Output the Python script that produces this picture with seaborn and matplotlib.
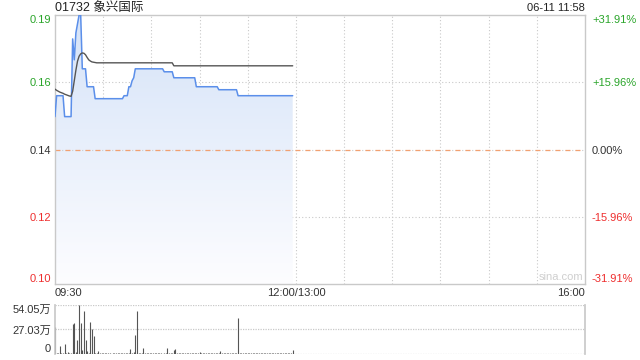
import numpy as np
import pandas as pd
import matplotlib
matplotlib.use("Agg")
import matplotlib.pyplot as plt
import seaborn as sns
from matplotlib.colors import LinearSegmentedColormap

# ---------------- data ----------------
title = "01732 象兴国际"
stamp = "06-11 11:58"
prev_close = 0.141
price_ticks = [0.096, 0.1185, 0.141, 0.1635, 0.186]
price_labels = ["0.10", "0.12", "0.14", "0.16", "0.19"]
pct_labels = ["-31.91%", "-15.96%", "0.00%", "+15.96%", "+31.91%"]
time_ticks = [0, 150, 330]
time_labels = ["09:30", "12:00/13:00", "16:00"]
vol_ticks = [0, 27.03, 54.05]
vol_labels = ["0", "27.03万", "54.05万"]

# per-minute price (09:30 .. 11:58)
price = [
    0.152, 0.159, 0.159, 0.159, 0.159, 0.159, 0.152, 0.152, 0.152, 0.152,
    0.152, 0.178, 0.171, 0.180, 0.183, 0.186, 0.186, 0.168, 0.168, 0.168,
    0.162, 0.162, 0.162, 0.162, 0.162, 0.158, 0.158, 0.158, 0.158, 0.158,
    0.158, 0.158, 0.158, 0.158, 0.158, 0.158, 0.158, 0.158, 0.158, 0.158,
    0.158, 0.158, 0.158, 0.159, 0.159, 0.159, 0.162, 0.162, 0.164, 0.165,
    0.168, 0.168, 0.168, 0.168, 0.168, 0.168, 0.168, 0.168, 0.168, 0.168,
    0.168, 0.168, 0.168, 0.168, 0.168, 0.168, 0.168, 0.168, 0.167, 0.167,
    0.167, 0.167, 0.167, 0.167, 0.165, 0.165, 0.165, 0.165, 0.165, 0.165,
    0.165, 0.165, 0.165, 0.165, 0.165, 0.165, 0.165, 0.165, 0.162, 0.162,
    0.162, 0.162, 0.162, 0.162, 0.162, 0.162, 0.162, 0.162, 0.162, 0.162,
    0.162, 0.162, 0.161, 0.161, 0.161, 0.161, 0.161, 0.161, 0.161, 0.161,
    0.161, 0.161, 0.161, 0.161, 0.159, 0.159, 0.159, 0.159, 0.159, 0.159,
    0.159, 0.159, 0.159, 0.159, 0.159, 0.159, 0.159, 0.159, 0.159, 0.159,
    0.159, 0.159, 0.159, 0.159, 0.159, 0.159, 0.159, 0.159, 0.159, 0.159,
    0.159, 0.159, 0.159, 0.159, 0.159, 0.159, 0.159, 0.159, 0.159,
]

# per-minute average price
avg_price = [
    0.1612, 0.1608, 0.1605, 0.1602, 0.1600, 0.1598, 0.1595, 0.1593, 0.1591, 0.1589,
    0.1588, 0.1605, 0.1640, 0.1675, 0.1705, 0.1722, 0.1730, 0.1733, 0.1732, 0.1727,
    0.1718, 0.1710, 0.1706, 0.1703, 0.1702, 0.1701, 0.1700, 0.1700, 0.1700, 0.1700,
    0.1700, 0.1700, 0.1700, 0.1700, 0.1700, 0.1700, 0.1700, 0.1700, 0.1700, 0.1700,
    0.1700, 0.1700, 0.1700, 0.1700, 0.1700, 0.1700, 0.1700, 0.1700, 0.1700, 0.1700,
    0.1700, 0.1700, 0.1700, 0.1700, 0.1700, 0.1700, 0.1700, 0.1700, 0.1700, 0.1700,
    0.1700, 0.1700, 0.1700, 0.1700, 0.1700, 0.1700, 0.1700, 0.1700, 0.1700, 0.1700,
    0.1700, 0.1700, 0.1700, 0.1700, 0.1690, 0.1690, 0.1690, 0.1690, 0.1690, 0.1690,
    0.1690, 0.1690, 0.1690, 0.1690, 0.1690, 0.1690, 0.1690, 0.1690, 0.1690, 0.1690,
    0.1690, 0.1690, 0.1690, 0.1690, 0.1690, 0.1690, 0.1690, 0.1690, 0.1690, 0.1690,
    0.1690, 0.1690, 0.1690, 0.1690, 0.1690, 0.1690, 0.1690, 0.1690, 0.1690, 0.1690,
    0.1690, 0.1690, 0.1690, 0.1690, 0.1690, 0.1690, 0.1690, 0.1690, 0.1690, 0.1690,
    0.1690, 0.1690, 0.1690, 0.1690, 0.1690, 0.1690, 0.1690, 0.1690, 0.1690, 0.1690,
    0.1690, 0.1690, 0.1690, 0.1690, 0.1690, 0.1690, 0.1690, 0.1690, 0.1690, 0.1690,
    0.1690, 0.1690, 0.1690, 0.1690, 0.1690, 0.1690, 0.1690, 0.1690, 0.1690,
]

# per-minute volume (万股)
volume = [
    30.1, 1.2, 0.8, 8.8, 0.6, 1.0, 11.0, 0.9, 2.0, 0.7,
    1.5, 32.7, 33.8, 2.1, 15.4, 54.05, 33.8, 4.0, 47.4, 15.0,
    3.0, 1.2, 35.6, 27.2, 19.9, 1.0, 0.8, 3.2, 0.9, 1.1,
    0.6, 0.9, 1.0, 0.7, 1.2, 0.5, 0.8, 1.0, 0.6, 0.9,
    1.1, 0.7, 0.8, 1.4, 0.9, 1.0, 1.6, 5.0, 1.2, 2.3,
    21.0, 47.4, 1.0, 0.8, 1.1, 7.0, 0.9, 0.7, 1.0, 0.6,
    0.8, 1.0, 0.7, 0.9, 0.6, 1.1, 0.8, 0.5, 0.9, 1.0,
    7.0, 0.8, 0.6, 1.2, 4.4, 5.5, 0.9, 0.7, 0.8, 1.0,
    0.6, 0.9, 0.7, 1.0, 0.8, 0.6, 0.9, 1.1, 0.7, 1.3,
    2.0, 0.8, 0.6, 0.9, 1.0, 0.7, 0.8, 0.6, 0.9, 0.7,
    1.0, 0.8, 1.2, 3.3, 0.7, 0.9, 0.6, 0.8, 1.0, 0.7,
    0.9, 0.6, 0.8, 1.1, 39.5, 1.0, 0.8, 0.7, 0.9, 0.6,
    0.8, 1.0, 0.7, 0.9, 0.6, 0.8, 1.1, 0.7, 0.9, 0.6,
    0.8, 0.7, 1.0, 0.6, 0.9, 0.8, 0.7, 1.0, 0.6, 0.8,
    0.9, 0.7, 0.6, 1.0, 0.8, 0.7, 0.9, 1.2, 4.0,
]

minutes = np.arange(len(price))
df = pd.DataFrame({"minute": minutes, "price": price, "avg": avg_price, "vol": volume})

# ---------------- style ----------------
sns.set_theme(style="white")
plt.rcParams["font.family"] = ["Liberation Sans", "Noto Sans CJK SC", "DejaVu Sans"]

GREEN = "#2aa52a"
RED = "#ee2e2e"
DARK = "#333333"
GRID = "#c9c9c9"
lab_colors = [RED, RED, DARK, GREEN, GREEN]

fig = plt.figure(figsize=(6.4, 3.6), dpi=100)
W, H = 640, 360
ax = fig.add_axes([55 / W, 1 - 284 / H, 530 / W, 269 / H])
axv = fig.add_axes([55 / W, 1 - 354 / H, 530 / W, 49 / H])

ylo, yhi = price_ticks[0], price_ticks[-1]
ax.set_xlim(0, 330)
ax.set_ylim(ylo, yhi)

# gradient fill under the price line
poly = ax.fill_between(df["minute"], df["price"], ylo, color="none", lw=0)
cmap = LinearSegmentedColormap.from_list("g", ["#fdfdff", "#d5e3f8"])
grad = np.linspace(0, 1, 256).reshape(-1, 1)
im = ax.imshow(grad, extent=[0, len(price) - 1, ylo, yhi], origin="lower",
               aspect="auto", cmap=cmap, zorder=1)
im.set_clip_path(poly.get_paths()[0], transform=ax.transData)

# grid
for m in range(30, 330, 30):
    ax.axvline(m, color=GRID, lw=0.8, ls=(0, (1, 2)), zorder=0.5)
for yv in (price_ticks[1], price_ticks[3]):
    ax.axhline(yv, color=GRID, lw=0.8, ls=(0, (1, 2)), zorder=0.5)
ax.axhline(prev_close, color=GRID, lw=0.8, ls=(0, (1, 2)), zorder=2)
ax.axhline(prev_close, color="#f2a070", lw=0.9, ls=(0, (4, 4)), zorder=2.1)

sns.lineplot(data=df, x="minute", y="price", ax=ax, color="#5b8fea", lw=1.1,
             estimator=None, zorder=3)
sns.lineplot(data=df, x="minute", y="avg", ax=ax, color="#555555", lw=1.0,
             estimator=None, zorder=3)

ax.set_xlabel("")
ax.set_ylabel("")
for s in ax.spines.values():
    s.set_color(GRID)
    s.set_linewidth(1.0)

ax.set_yticks(price_ticks)
ax.set_yticklabels(price_labels, fontsize=8)
ax.tick_params(axis="y", length=0, pad=3)
for t, c in zip(ax.get_yticklabels(), lab_colors):
    t.set_color(c)
ax.get_yticklabels()[0].set_va("bottom")
ax.get_yticklabels()[-1].set_va("top")

ax.set_xticks(time_ticks)
ax.set_xticklabels(time_labels, fontsize=8, color=DARK)
ax.tick_params(axis="x", length=0, pad=3)
xl = ax.get_xticklabels()
xl[0].set_ha("left")
xl[-1].set_ha("right")

# right percentage axis
axr = ax.twinx()
axr.set_ylim(ylo, yhi)
axr.set_yticks(price_ticks)
axr.set_yticklabels(pct_labels, fontsize=8)
axr.tick_params(axis="y", length=0, pad=5)
for t, c in zip(axr.get_yticklabels(), lab_colors):
    t.set_color(c)
axr.get_yticklabels()[0].set_va("bottom")
axr.get_yticklabels()[-1].set_va("top")
for s in axr.spines.values():
    s.set_visible(False)
axr.grid(False)

ax.text(0.997, 0.008, "sina.com", transform=ax.transAxes, ha="right", va="bottom",
        color="#cfcfcf", fontsize=8, zorder=4)

# volume panel
axv.set_xlim(0, 330)
axv.set_ylim(0, vol_ticks[-1])
axv.vlines(df["minute"], 0, df["vol"], color="#555555", lw=0.8)
for yv in vol_ticks:
    axv.axhline(yv, color=GRID, lw=0.9, ls=(0, (1, 1)), zorder=0)
axv.spines["top"].set_visible(False)
axv.spines["bottom"].set_visible(False)
axv.spines["left"].set_color(GRID)
axv.spines["right"].set_color(GRID)
axv.set_xticks([])
axv.set_yticks(vol_ticks)
axv.set_yticklabels(vol_labels, fontsize=8, color=DARK)
axv.tick_params(axis="y", length=0, pad=3)
axv.get_yticklabels()[0].set_va("bottom")
axv.get_yticklabels()[-1].set_va("top")

fig.text(55 / W, 1 - 8 / H, title, ha="left", va="center", fontsize=9, color="#222222")
fig.text(585 / W, 1 - 8 / H, stamp, ha="right", va="center", fontsize=8, color="#222222")

fig.savefig("out.png", dpi=100)
